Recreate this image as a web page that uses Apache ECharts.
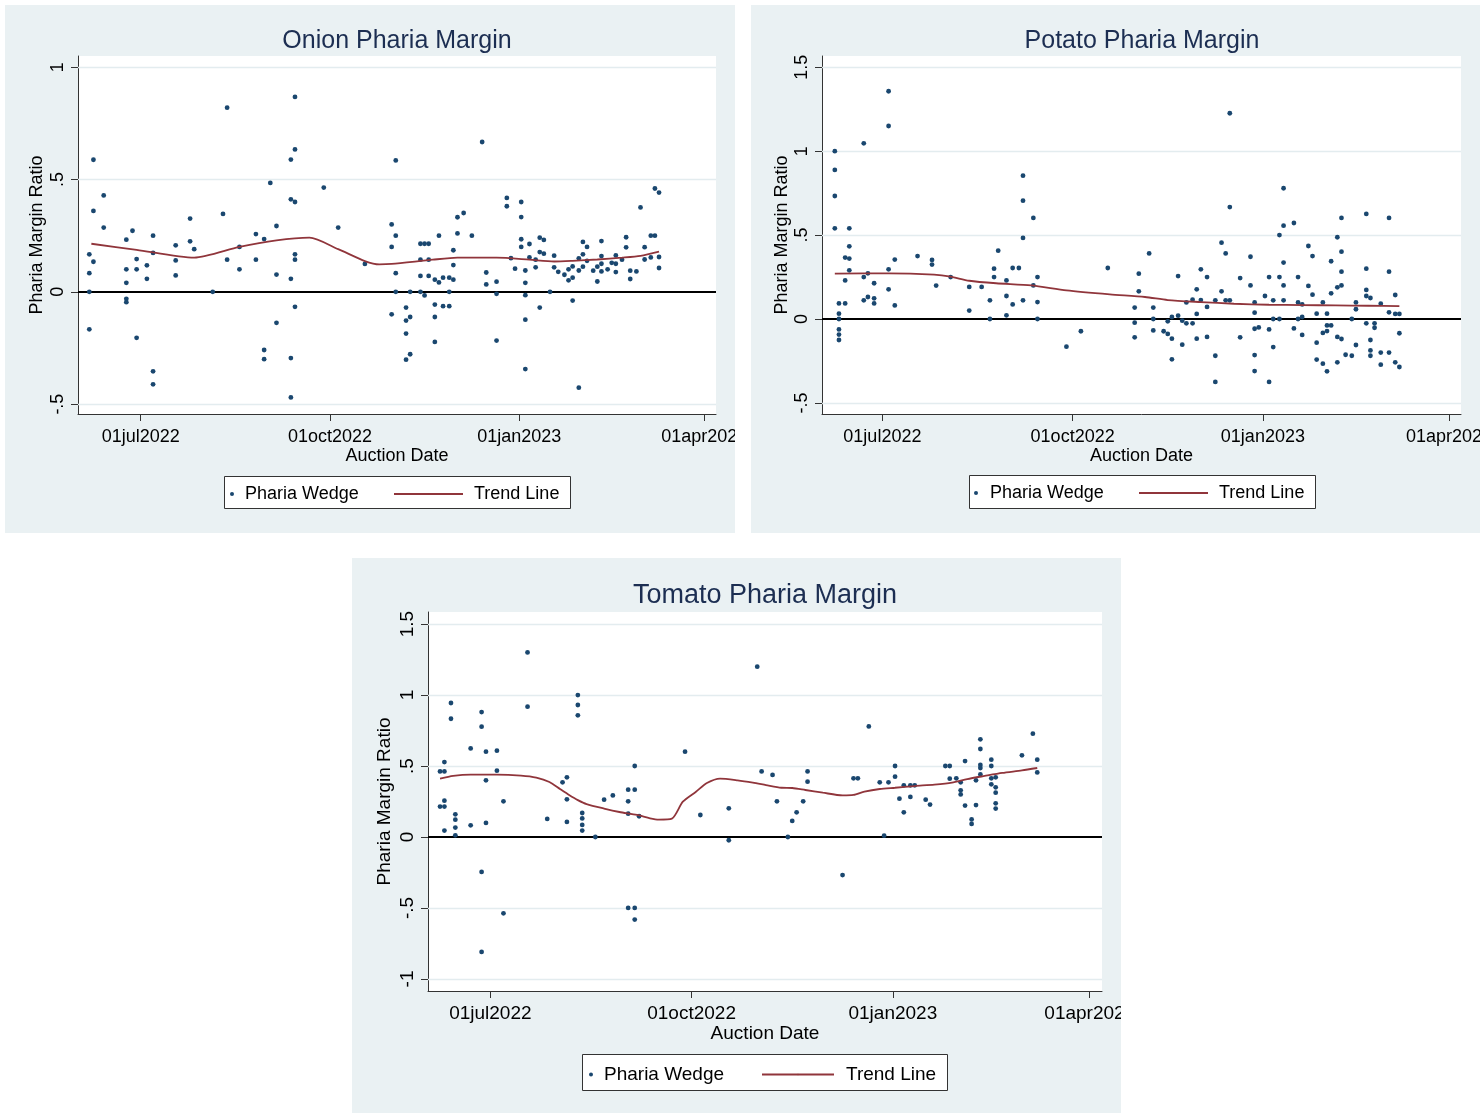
<!DOCTYPE html>
<html><head><meta charset="utf-8">
<script src="https://cdn.jsdelivr.net/npm/echarts@6/dist/echarts.min.js"></script>
<style>html,body{margin:0;padding:0;background:#fff;}#c{width:1484px;height:1113px;}</style>
</head><body><div id="c"></div>
<script>
// ---------- shared tick data ----------
const xTickDates = ['2022-07-01','2022-10-01','2023-01-01','2023-04-01'];
const xTickLabels = ['01jul2022','01oct2022','01jan2023','01apr2023'];
const titles = ['Onion Pharia Margin','Potato Pharia Margin','Tomato Pharia Margin'];
const xAxisName = 'Auction Date';
const yAxisName = 'Pharia Margin Ratio';
const seriesNames = ['Pharia Wedge','Trend Line'];

// ---------- Onion ----------
const onionYTicks = [-0.5,0,0.5,1];
const onionYLabels = ['-.5','0','.5','1'];
const onionDates = ['2022-06-06','2022-06-08','2022-06-13','2022-06-24','2022-06-27','2022-06-29','2022-07-04','2022-07-07','2022-07-18','2022-07-25','2022-07-27','2022-08-05','2022-08-10','2022-08-12','2022-08-18','2022-08-26','2022-08-30','2022-09-02','2022-09-05','2022-09-12','2022-09-14','2022-09-28','2022-10-05','2022-10-18','2022-10-31','2022-11-02','2022-11-07','2022-11-09','2022-11-14','2022-11-16','2022-11-18','2022-11-21','2022-11-23','2022-11-25','2022-11-28','2022-11-30','2022-12-02','2022-12-05','2022-12-09','2022-12-14','2022-12-16','2022-12-21','2022-12-26','2022-12-28','2022-12-30','2023-01-02','2023-01-04','2023-01-06','2023-01-09','2023-01-11','2023-01-13','2023-01-16','2023-01-18','2023-01-20','2023-01-23','2023-01-25','2023-01-27','2023-01-30','2023-02-01','2023-02-03','2023-02-06','2023-02-08','2023-02-10','2023-02-13','2023-02-15','2023-02-17','2023-02-20','2023-02-22','2023-02-24','2023-02-27','2023-03-01','2023-03-03','2023-03-06','2023-03-08','2023-03-10'];
const onionValues = [[0.167,0.083,0,-0.167],[0.588,0.36,0.134],[0.429,0.286],[0.232,0.1,0.04,-0.031,-0.046],[0.272],[0.146,0.1,-0.205],[0.118,0.058],[0.25,0.173,-0.354,-0.412],[0.207,0.14,0.073],[0.326,0.225],[0.19],[0],[0.347],[0.82,0.143],[0.2,0.1],[0.257,0.143],[0.235,-0.259,-0.3],[0.485],[0.293,0.077,-0.138],[0.589,0.412,0.058,-0.295,-0.47],[0.868,0.634,0.4,0.167,0.143,-0.067],[0.464],[0.286],[0.124],[0.3,0.2,-0.1],[0.585,0.25,0.083,0],[-0.07,-0.128,-0.186,-0.302],[0,-0.112,-0.278],[0.214,0.143,0.071,0],[0.214,-0.016],[0.214,0.143,0.071],[0.054,-0.057,-0.112,-0.223],[0.25,0.042],[0.063,-0.064],[0.063,0,-0.064],[0.185,0.119,0.054],[0.332,0.26],[0.351],[0.25],[0.667],[0.086,0.033],[0.045,-0.009,-0.217],[0.418,0.381],[0.15],[0.103],[0.4,0.333,0.234,0.2],[0.095,0.04,-0.015,-0.124,-0.344],[0.213,0.153],[0.143,0.109],[0.241,0.177,-0.07],[0.231,0.17],[0],[0.161,0.109],[0.089],[0.076],[0.1,0.051],[0.113,0.063,-0.039],[0.149,0.095,-0.427],[0.222,0.167,0.112],[0.2,0.138],[0.094],[0.112,0.046],[0.226,0.159,0.125,0.091],[0.1],[0.129],[0.162,0.125,0.088],[0.143],[0.243,0.198],[0.094,0.057],[0.091],[0.376],[0.199,0.144],[0.25,0.153],[0.46,0.25],[0.442,0.155,0.106]];
const onionTrendDates = ['2022-06-07','2022-06-29','2022-07-27','2022-08-18','2022-09-05','2022-09-21','2022-10-05','2022-10-18','2022-10-25','2022-10-31','2022-11-20','2022-12-02','2022-12-21','2023-01-06','2023-01-18','2023-01-27','2023-02-08','2023-02-20','2023-03-01','2023-03-10'];
const onionTrendValues = [0.214,0.187,0.152,0.2,0.229,0.241,0.19,0.137,0.122,0.124,0.143,0.152,0.152,0.143,0.135,0.138,0.144,0.152,0.16,0.179];

// ---------- Potato ----------
const potatoYTicks = [-0.5,0,0.5,1,1.5];
const potatoYLabels = ['-.5','0','.5','1','1.5'];
const potatoDates = ['2022-06-08','2022-06-10','2022-06-13','2022-06-15','2022-06-22','2022-06-24','2022-06-27','2022-07-04','2022-07-07','2022-07-18','2022-07-25','2022-07-27','2022-08-03','2022-08-12','2022-08-18','2022-08-22','2022-08-24','2022-08-26','2022-08-30','2022-09-02','2022-09-05','2022-09-07','2022-09-12','2022-09-14','2022-09-28','2022-10-05','2022-10-18','2022-10-31','2022-11-02','2022-11-07','2022-11-09','2022-11-14','2022-11-16','2022-11-18','2022-11-21','2022-11-23','2022-11-25','2022-11-28','2022-11-30','2022-12-02','2022-12-05','2022-12-09','2022-12-12','2022-12-14','2022-12-16','2022-12-21','2022-12-26','2022-12-28','2022-12-30','2023-01-02','2023-01-04','2023-01-06','2023-01-09','2023-01-11','2023-01-16','2023-01-18','2023-01-20','2023-01-23','2023-01-25','2023-01-27','2023-01-30','2023-02-01','2023-02-03','2023-02-06','2023-02-08','2023-02-10','2023-02-13','2023-02-15','2023-02-20','2023-02-22','2023-02-24','2023-02-27','2023-03-03','2023-03-06','2023-03-08'];
const potatoValues = [[1.0,0.888,0.733,0.54],[0.093,0.032,0,-0.062,-0.093,-0.125],[0.366,0.23,0.093],[0.54,0.433,0.36,0.29],[1.047,0.25,0.111],[0.272,0.131],[0.213,0.123,0.093],[1.357,1.15,0.296,0.177],[0.354,0.081],[0.375],[0.352,0.324],[0.199],[0.25],[0.191,0.05],[0.191],[0.111,0],[0.3,0.25],[0.407],[0.23,0.137,0.022],[0.304,0.087],[0.304],[0.854,0.705,0.483,0.111],[0.602,0.2],[0.25,0.101,0],[-0.165],[-0.073],[0.304],[0.068,-0.022,-0.109],[0.27,0.165],[0.391],[0.068,0,-0.068],[-0.073],[-0.014,-0.089],[0.012,-0.117,-0.24],[0.256,0.02],[-0.01,-0.153],[0.099,-0.026],[0.115,-0.026],[0.177,0.03,-0.117],[0.296,0.113],[0.25,0.072,-0.107],[0.111,-0.219,-0.375],[0.455,0.165],[0.391,0.111],[1.226,0.667,0.111],[0.244,-0.109],[0.371,0.2],[0.099,0.038,-0.058,-0.215,-0.31],[-0.05],[0.137],[0.25,-0.062,-0.375],[0.111,0,-0.167],[0.5,0.25,0],[0.779,0.556,0.336,0.2,0.111],[0.572,-0.056],[0.25,0.099,0],[0.087,0.012,-0.095],[0.435,0.197],[0.375,0.145],[0.032,-0.141,-0.242],[0.099,-0.083,-0.266],[0.032,-0.038,-0.072,-0.312],[0.344,0.153,-0.038],[0.487,0.189,-0.107,-0.258],[0.602,0.401,0.282,0.2,-0.119],[-0.213],[0,-0.219],[0.099,0.058,-0.155],[0.626,0.3,0.173,0.137,-0.026],[0.125,-0.125,-0.187,-0.219],[-0.026,-0.052],[0.091,-0.2,-0.272],[0.602,0.282,0.04,-0.2],[0.143,0.03,-0.258],[0.03,-0.085,-0.286]];
const potatoTrendDates = ['2022-06-08','2022-07-04','2022-07-26','2022-08-03','2022-08-12','2022-08-25','2022-09-11','2022-09-28','2022-10-19','2022-11-05','2022-11-16','2022-12-02','2022-12-18','2023-01-04','2023-01-20','2023-02-05','2023-02-21','2023-03-08'];
const potatoTrendValues = [0.27,0.272,0.264,0.252,0.228,0.213,0.2,0.171,0.147,0.131,0.113,0.101,0.091,0.085,0.083,0.081,0.079,0.077];

// ---------- Tomato ----------
const tomatoYTicks = [-1,-0.5,0,0.5,1,1.5];
const tomatoYLabels = ['-1','-.5','0','.5','1','1.5'];
const tomatoDates = ['2022-06-08','2022-06-10','2022-06-13','2022-06-15','2022-06-22','2022-06-27','2022-06-29','2022-07-04','2022-07-07','2022-07-18','2022-07-27','2022-08-03','2022-08-05','2022-08-10','2022-08-12','2022-08-18','2022-08-22','2022-08-26','2022-09-02','2022-09-05','2022-09-07','2022-09-28','2022-10-05','2022-10-18','2022-10-31','2022-11-02','2022-11-07','2022-11-09','2022-11-14','2022-11-16','2022-11-18','2022-11-21','2022-11-23','2022-12-09','2022-12-14','2022-12-16','2022-12-21','2022-12-26','2022-12-28','2022-12-30','2023-01-02','2023-01-04','2023-01-06','2023-01-09','2023-01-11','2023-01-16','2023-01-18','2023-01-25','2023-01-27','2023-01-30','2023-02-01','2023-02-03','2023-02-06','2023-02-08','2023-02-10','2023-02-15','2023-02-17','2023-03-01','2023-03-06','2023-03-08'];
const tomatoValues = [[0.462,0.214],[0.528,0.462,0.256,0.214,0.045],[0.944,0.833],[0.16,0.122,0.066,0.012],[0.624,0.082],[0.88,0.777,-0.246,-0.81],[0.601,0.399,0.099],[0.608,0.467],[0.251,-0.538],[1.3,0.918],[0.127],[0.385],[0.42,0.265,0.106],[1.0,0.93,0.857],[0.169,0.131,0.085,0.045],[0],[0.263],[0.293],[0.333,0.251,0.164,-0.5],[0.5,0.333,-0.5,-0.582],[0.146],[0.601],[0.155],[0.202,-0.023],[1.2],[0.462],[0.437],[0.251],[0],[0.113],[0.174],[0.251],[0.462,0.39],[-0.268],[0.413],[0.413],[0.779],[0.385],[0.009],[0.385],[0.5,0.425],[0.27],[0.364,0.174],[0.364,0.282],[0.364],[0.263],[0.228],[0.5],[0.5,0.411],[0.413],[0.385,0.329,0.3],[0.535,0.221],[0.124,0.092],[0.399,0.225],[0.688,0.62,0.507,0.486,0.441],[0.545,0.5,0.413,0.371],[0.42,0.35,0.312,0.237,0.2],[0.575],[0.728],[0.545,0.455]];
const tomatoTrendDates = ['2022-06-08','2022-06-14','2022-06-22','2022-07-04','2022-07-15','2022-07-22','2022-07-28','2022-08-02','2022-08-06','2022-08-10','2022-08-14','2022-08-22','2022-08-29','2022-09-06','2022-09-12','2022-09-16','2022-09-22','2022-09-27','2022-10-03','2022-10-08','2022-10-14','2022-10-22','2022-10-29','2022-11-04','2022-11-11','2022-11-16','2022-11-22','2022-11-30','2022-12-09','2022-12-14','2022-12-19','2022-12-26','2023-01-02','2023-01-11','2023-01-20','2023-01-28','2023-02-04','2023-02-12','2023-02-20','2023-03-01','2023-03-08'];
const tomatoTrendValues = [0.411,0.43,0.439,0.439,0.432,0.418,0.387,0.336,0.296,0.26,0.232,0.2,0.176,0.155,0.131,0.122,0.129,0.249,0.319,0.38,0.411,0.399,0.383,0.366,0.347,0.345,0.331,0.312,0.293,0.296,0.319,0.338,0.347,0.359,0.369,0.383,0.408,0.43,0.451,0.469,0.486];

// ---------- build ----------
const DAY = 86400000;
function ts(s){const p=s.split('-').map(Number);return Date.UTC(p[0],p[1]-1,p[2]);}
const xTickTs = xTickDates.map(ts);
const jul1 = ts('2022-07-01');
const FONT = '"Liberation Sans", Arial, Helvetica, sans-serif';

const panels = [
  {dates:onionDates, values:onionValues, tDates:onionTrendDates, tValues:onionTrendValues, yTicks:onionYTicks, yLabels:onionYLabels,
   yMin:-0.544, yMax:1.05, xMinDay:-30.5, xMaxDay:279.7, bg:[5,5,730,528], grid:[78,56,638,358],
   title:[397,39,25], fs:18, yLabM:11, yNameGap:32, xLabM:14, xNameGap:32,
   box:[224,476,346,32], legY:492, dotX:232, padA:6, lineX:393, lineW:69, padB:6},
  {dates:potatoDates, values:potatoValues, tDates:potatoTrendDates, tValues:potatoTrendValues, yTicks:potatoYTicks, yLabels:potatoYLabels,
   yMin:-0.566, yMax:1.567, xMinDay:-29.2, xMaxDay:279.8, bg:[751,5,729,528], grid:[822,56,639,358],
   title:[1142,39,25], fs:18, yLabM:11, yNameGap:31, xLabM:14, xNameGap:32,
   box:[969,475,346,33], legY:491, dotX:976, padA:7, lineX:1138, lineW:69, padB:6},
  {dates:tomatoDates, values:tomatoValues, tDates:tomatoTrendDates, tValues:tomatoTrendValues, yTicks:tomatoYTicks, yLabels:tomatoYLabels,
   yMin:-1.085, yMax:1.585, xMinDay:-28.5, xMaxDay:279.6, bg:[352,558,769,555], grid:[428,612,674,379],
   title:[765,594,27], fs:19, yLabM:11, yNameGap:34, xLabM:13, xNameGap:32,
   box:[582,1054,365,36], legY:1072, dotX:591, padA:6, lineX:761, lineW:72, padB:7}
];

const grids=[], xAxes=[], yAxes=[], series=[], legends=[], graphics=[];
panels.forEach((p,i)=>{
  graphics.push({type:'rect', silent:true, z:-5, shape:{x:p.bg[0],y:p.bg[1],width:p.bg[2],height:p.bg[3]}, style:{fill:'#eaf1f3'}});
  graphics.push({type:'rect', silent:true, z:1, shape:{x:p.box[0]+0.5,y:p.box[1]+0.5,width:p.box[2],height:p.box[3]}, style:{fill:'#ffffff', stroke:'#333333', lineWidth:1}});
  graphics.push({type:'text', silent:true, z:2, x:p.title[0], y:p.title[1]+2, style:{text:titles[i], fontSize:p.title[2], fontFamily:FONT, fill:'#1c2e52', align:'center', verticalAlign:'middle', textAlign:'center', textVerticalAlign:'middle'}});
  grids.push({left:p.grid[0], top:p.grid[1], width:p.grid[2], height:p.grid[3], show:true, backgroundColor:'#ffffff', borderWidth:0, containLabel:false, outerBoundsMode:'none'});
  xAxes.push({type:'value', gridIndex:i, min:jul1+p.xMinDay*DAY, max:jul1+p.xMaxDay*DAY, scale:true,
    name:xAxisName, nameLocation:'middle', nameGap:p.xNameGap, nameTextStyle:{fontSize:p.fs, color:'#000', fontFamily:FONT},
    axisLine:{show:true, onZero:false, lineStyle:{color:'#333', width:1}},
    axisTick:{show:true, customValues:xTickTs, length:7, lineStyle:{color:'#333', width:1}},
    axisLabel:{customValues:xTickTs, fontSize:p.fs, color:'#000', fontFamily:FONT, margin:p.xLabM, hideOverlap:false,
      formatter:(v)=>{const k=xTickTs.findIndex(t=>Math.abs(t-v)<1000);return k>=0?xTickLabels[k]:'';}},
    splitLine:{show:false}});
  yAxes.push({type:'value', gridIndex:i, min:p.yMin, max:p.yMax,
    name:yAxisName, nameLocation:'middle', nameGap:p.yNameGap, nameTextStyle:{fontSize:p.fs, color:'#000', fontFamily:FONT},
    axisLine:{show:true, onZero:false, lineStyle:{color:'#333', width:1}},
    axisTick:{show:true, customValues:p.yTicks, length:7, lineStyle:{color:'#333', width:1}},
    axisLabel:{customValues:p.yTicks, rotate:90, fontSize:p.fs, color:'#000', fontFamily:FONT, margin:p.yLabM,
      formatter:(v)=>{const k=p.yTicks.findIndex(t=>Math.abs(t-v)<1e-9);return k>=0?p.yLabels[k]:'';}},
    splitLine:{show:false}});
  const pts = [];
  p.dates.forEach((d,k)=>p.values[k].forEach(v=>pts.push([ts(d),v])));
  const trend = p.tDates.map((d,k)=>[ts(d),p.tValues[k]]);
  series.push({type:'scatter', name:seriesNames[0], xAxisIndex:i, yAxisIndex:i, data:pts, symbolSize:4.8, z:4,
    itemStyle:{color:'#1a476f', opacity:1},
    markLine:{silent:true, z:1, symbol:'none', label:{show:false}, animation:false,
      lineStyle:{color:'#e3ecef', width:1.4, type:'solid'},
      data:p.yTicks.filter(t=>t!==0).map(t=>({yAxis:t}))}});
  series.push({type:'line', name:seriesNames[1], xAxisIndex:i, yAxisIndex:i, data:trend, symbol:'none', smooth:0.25, z:5,
    lineStyle:{color:'#90353b', width:1.8}, itemStyle:{color:'#90353b'},
    markLine:{silent:true, z:2, symbol:'none', label:{show:false}, animation:false,
      lineStyle:{color:'#000', width:1.8, type:'solid'}, data:[{yAxis:0}]}});
  legends.push({left:p.dotX-2, top:p.legY-7, padding:0, itemWidth:4, itemHeight:4, icon:'circle', selectedMode:false,
    data:[seriesNames[0]], textStyle:{fontSize:p.fs, color:'#000', fontFamily:FONT, padding:[0,0,0,p.padA]}});
  legends.push({left:p.lineX, top:p.legY-7, padding:0, itemWidth:p.lineW, itemHeight:2, selectedMode:false,
    data:[seriesNames[1]], textStyle:{fontSize:p.fs, color:'#000', fontFamily:FONT, padding:[0,0,0,p.padB]}});
});
// masks clipping labels at panel edges (like the source graph regions)
[[735,0,16,545],[1480,0,4,545],[1121,545,363,568]].forEach(r=>{
  graphics.push({type:'rect', silent:true, z:100, shape:{x:r[0],y:r[1],width:r[2],height:r[3]}, style:{fill:'#ffffff'}});
});

const chart = echarts.init(document.getElementById('c'), null, {renderer:'canvas'});
chart.setOption({
  animation:false,
  backgroundColor:'#ffffff',
  textStyle:{fontFamily:FONT},
  graphic:{elements:graphics},
  grid:grids, xAxis:xAxes, yAxis:yAxes, series:series, legend:legends
});
</script></body></html>
